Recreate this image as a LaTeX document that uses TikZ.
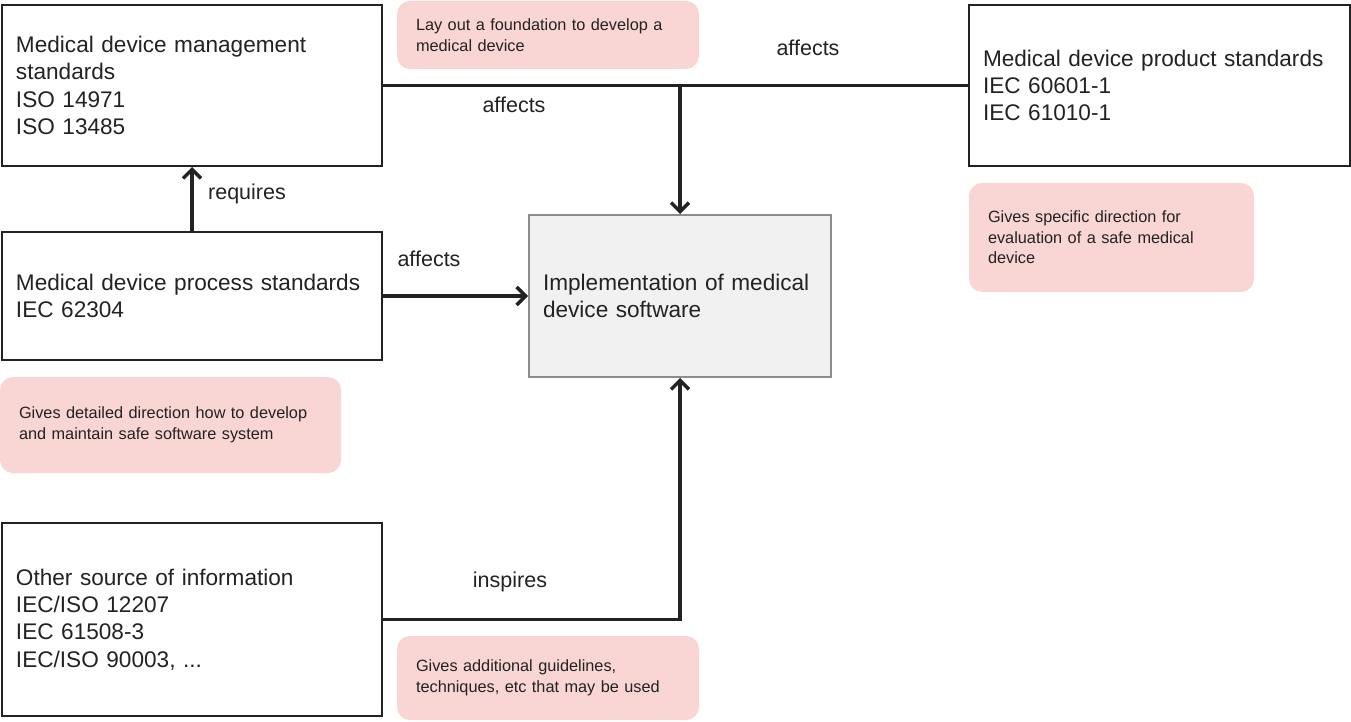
\documentclass[tikz,border=0pt]{standalone}
\usepackage{fontspec}
\setmainfont{Liberation Sans}
\usetikzlibrary{arrows.meta}
\definecolor{ink}{HTML}{222222}
\definecolor{pinkfill}{HTML}{F9D6D3}
\definecolor{implfill}{HTML}{F1F1F1}
\definecolor{implline}{HTML}{8C8C8C}
\tikzset{
  mainbox/.style={draw=ink, line width=2pt, rectangle, align=left, inner xsep=14pt, inner ysep=0pt,
    text=ink, font=\fontsize{22.6}{27.2}\selectfont},
  implbox/.style={mainbox, draw=implline, fill=implfill},
  note/.style={fill=pinkfill, rounded corners=13pt, rectangle, align=left, inner xsep=19pt, inner ysep=0pt,
    text=ink, font=\fontsize{16.3}{20.5}\selectfont},
  lbl/.style={text=ink, font=\fontsize{21.5}{26}\selectfont, inner sep=0pt},
  conn/.style={draw=ink, line width=3.5pt},
  arr/.style={conn, -{Straight Barb[length=9pt, width=18pt, line width=3.5pt]}}
}
\begin{document}
\begin{tikzpicture}[x=1pt, y=-1pt]
\useasboundingbox (0,0) rectangle (1351,722);
% main boxes
\node[mainbox, text width=352pt, minimum height=161pt] (mgmt) at (192,85.5)
  {Medical device management\\standards\\ISO 14971\\ISO 13485};
\node[mainbox, text width=352pt, minimum height=128pt] (proc) at (192,296)
  {Medical device process standards\\IEC 62304};
\node[mainbox, text width=352pt, minimum height=193pt] (other) at (192,619.5)
  {Other source of information\\IEC/ISO 12207\\IEC 61508-3\\IEC/ISO 90003, ...};
\node[mainbox, text width=353pt, minimum height=161pt] (prod) at (1159.5,85.5)
  {Medical device product standards\\IEC 60601-1\\IEC 61010-1};
\node[implbox, text width=274pt, minimum height=162pt] (impl) at (680,296)
  {Implementation of medical\\device software};
% notes
\node[note, text width=264pt, minimum height=68pt] (n1) at (548,35)
  {Lay out a foundation to develop a\\medical device};
\node[note, text width=247pt, minimum height=109pt] (n2) at (1111.5,237.5)
  {Gives specific direction for\\evaluation of a safe medical\\device};
\node[note, text width=303pt, minimum height=96pt] (n3) at (170.5,425)
  {Gives detailed direction how to develop\\and maintain safe software system};
\node[note, text width=264pt, minimum height=84pt] (n4) at (548,678)
  {Gives additional guidelines,\\techniques, etc that may be used};
% connectors
\coordinate (j1) at (impl.north |- mgmt.east);
\draw[conn] (mgmt.east) -- (prod.west);
\draw[arr] (j1) -- (impl.north);
\draw[arr] (proc.east) -- (impl.west);
\draw[arr] (proc.north) -- (mgmt.south);
\draw[arr] (other.east) -| (impl.south);
% labels
\node[lbl] (l1) at (808,48) {affects};
\node[lbl] (l2) at (514,105) {affects};
\node[lbl] (l3) at (429,259) {affects};
\node[lbl] (l4) at (247,194) {requires};
\node[lbl] (l5) at (510,582) {inspires};
\end{tikzpicture}
\end{document}
